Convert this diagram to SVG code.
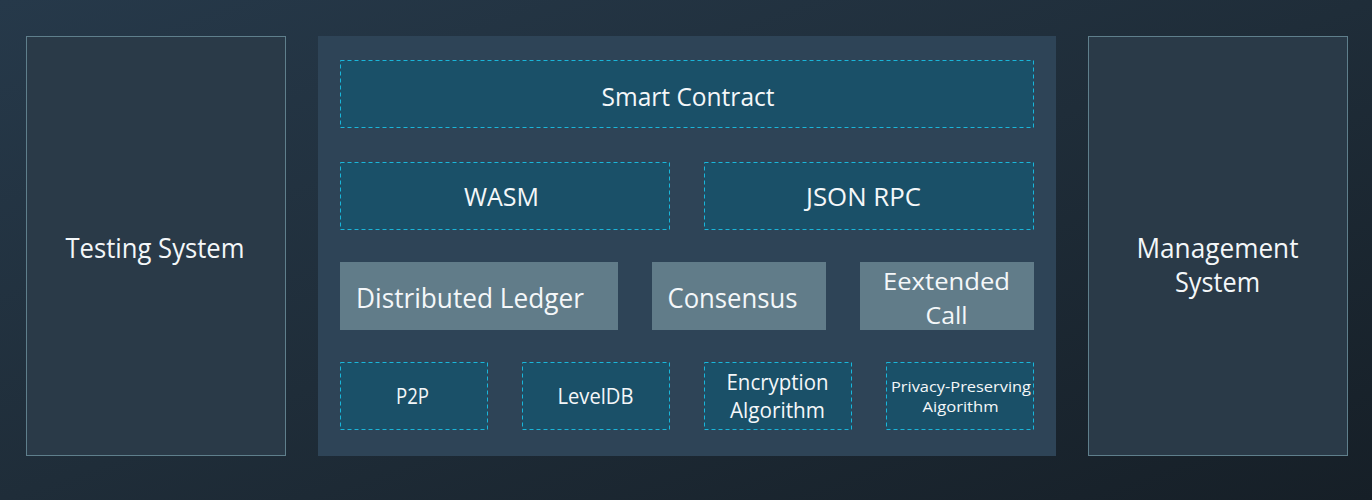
<svg xmlns="http://www.w3.org/2000/svg" width="1372" height="500" viewBox="0 0 1372 500">
  <defs>
    <linearGradient id="bg" x1="0" y1="0" x2="1" y2="1">
      <stop offset="0" stop-color="#26394a"/>
      <stop offset="0.5" stop-color="#1f2d39"/>
      <stop offset="1" stop-color="#161f27"/>
    </linearGradient>
    <style>
      .side { fill: #2a3a48; stroke: #5f7f8c; stroke-width: 1; }
      .panel { fill: #2e4457; }
      .dash { fill: #1a5068; stroke: #19b6da; stroke-width: 1; stroke-dasharray: 4 3; }
      .solid { fill: #617c89; }
      text { font-family: "Open Sans", "Noto Sans", "Liberation Sans", sans-serif; fill: #f4f7f9; text-anchor: middle; }
      .big { font-size: 27px; }
      .two { font-size: 24.5px; }
      .mid { font-size: 25px; }
      .small { font-size: 21px; }
      .tiny { font-size: 14.5px; }
    </style>
  </defs>
  <rect x="0" y="0" width="1372" height="500" fill="url(#bg)"/>

  <g id="testing-system">
    <rect class="side" x="26.5" y="36.5" width="259" height="419"/>
    <text class="big" x="155" y="258" textLength="179" lengthAdjust="spacingAndGlyphs">Testing System</text>
  </g>

  <g id="core-panel">
    <rect class="panel" x="318" y="36" width="738" height="420"/>
  </g>

  <g id="smart-contract">
    <rect class="dash" x="340.5" y="60.5" width="693" height="67"/>
    <text class="mid" x="688" y="106" textLength="173" lengthAdjust="spacingAndGlyphs">Smart Contract</text>
  </g>

  <g id="wasm">
    <rect class="dash" x="340.5" y="162.5" width="329" height="67"/>
    <text class="mid" x="501.5" y="205.5" textLength="75" lengthAdjust="spacingAndGlyphs">WASM</text>
  </g>

  <g id="json-rpc">
    <rect class="dash" x="704.5" y="162.5" width="329" height="67"/>
    <text class="mid" x="863.5" y="205.5" textLength="115" lengthAdjust="spacingAndGlyphs">JSON RPC</text>
  </g>

  <g id="distributed-ledger">
    <rect class="solid" x="340" y="262" width="278" height="68"/>
    <text class="big" x="470" y="308" textLength="228" lengthAdjust="spacingAndGlyphs">Distributed Ledger</text>
  </g>

  <g id="consensus">
    <rect class="solid" x="652" y="262" width="174" height="68"/>
    <text class="big" x="732.5" y="308" textLength="130" lengthAdjust="spacingAndGlyphs">Consensus</text>
  </g>

  <g id="extended-call">
    <rect class="solid" x="860" y="262" width="174" height="68"/>
    <text class="two" x="946.5" y="289.5" textLength="127" lengthAdjust="spacingAndGlyphs">Eextended</text>
    <text class="two" x="946.5" y="323.5" textLength="42" lengthAdjust="spacingAndGlyphs">Call</text>
  </g>

  <g id="p2p">
    <rect class="dash" x="340.5" y="362.5" width="147" height="67"/>
    <text class="small" x="412.5" y="404" textLength="33" lengthAdjust="spacingAndGlyphs">P2P</text>
  </g>

  <g id="leveldb">
    <rect class="dash" x="522.5" y="362.5" width="147" height="67"/>
    <text class="small" x="595.5" y="404" textLength="76" lengthAdjust="spacingAndGlyphs">LevelDB</text>
  </g>

  <g id="encryption-algorithm">
    <rect class="dash" x="704.5" y="362.5" width="147" height="67"/>
    <text class="small" x="777.5" y="390" textLength="102" lengthAdjust="spacingAndGlyphs">Encryption</text>
    <text class="small" x="777.5" y="417.5" textLength="95" lengthAdjust="spacingAndGlyphs">Algorithm</text>
  </g>

  <g id="privacy-preserving-algorithm">
    <rect class="dash" x="886.5" y="362.5" width="147" height="67"/>
    <text class="tiny" x="961" y="392" textLength="140" lengthAdjust="spacingAndGlyphs">Privacy-Preserving</text>
    <text class="tiny" x="960.5" y="412" textLength="76" lengthAdjust="spacingAndGlyphs">Aigorithm</text>
  </g>

  <g id="management-system">
    <rect class="side" x="1088.5" y="36.5" width="259" height="419"/>
    <text class="big" x="1217.5" y="258" textLength="162" lengthAdjust="spacingAndGlyphs">Management</text>
    <text class="big" x="1217.5" y="292" textLength="85" lengthAdjust="spacingAndGlyphs">System</text>
  </g>

  <g id="connectors"></g>
</svg>
